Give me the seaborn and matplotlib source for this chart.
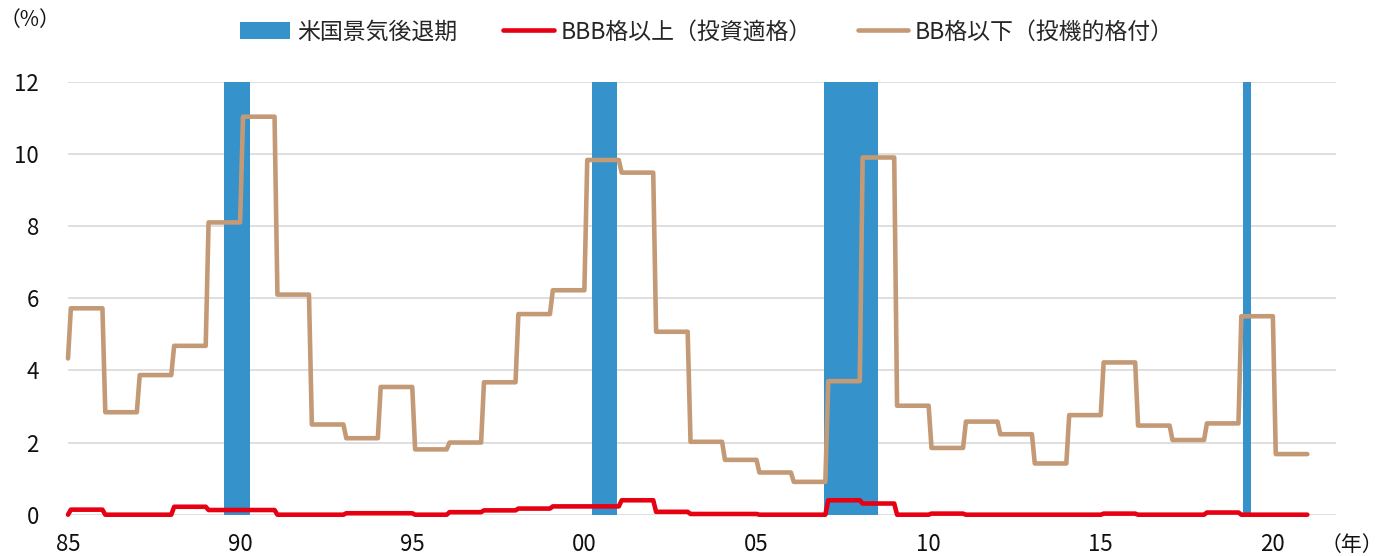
import matplotlib
matplotlib.use("Agg")
import matplotlib.pyplot as plt
import numpy as np
import pandas as pd
import seaborn as sns
from matplotlib.patches import Patch
from matplotlib.lines import Line2D

# Annual default rates (%), 1985-2021
years = list(range(1985, 2022))
bb_below = [4.33, 5.72, 2.84, 3.87, 4.68, 8.10, 11.03, 6.10, 2.50, 2.12,
            3.54, 1.81, 2.00, 3.67, 5.56, 6.22, 9.83, 9.48, 5.07, 2.02,
            1.52, 1.17, 0.91, 3.70, 9.90, 3.02, 1.85, 2.58, 2.23, 1.42,
            2.76, 4.22, 2.47, 2.07, 2.53, 5.50, 1.68]
bbb_above = [0.00, 0.14, 0.00, 0.00, 0.22, 0.13, 0.13, 0.00, 0.00, 0.04,
             0.04, 0.00, 0.07, 0.12, 0.17, 0.23, 0.23, 0.40, 0.08, 0.02,
             0.02, 0.00, 0.00, 0.40, 0.31, 0.00, 0.03, 0.00, 0.00, 0.00,
             0.00, 0.03, 0.00, 0.00, 0.06, 0.00, 0.00]

# US recessions (start year, start month, end year, end month)
recession_start = [(1990, 7), (2001, 3), (2007, 12), (2020, 2)]
recession_end = [(1991, 3), (2001, 11), (2009, 6), (2020, 4)]

tick_years = [1985, 1990, 1995, 2000, 2005, 2010, 2015, 2020]
tick_labels = ["85", "90", "95", "00", "05", "10", "15", "20"]
y_ticks = [0, 2, 4, 6, 8, 10, 12]

label_recession = "米国景気後退期"
label_bbb = "BBB格以上（投資適格）"
label_bb = "BB格以下（投機的格付）"

c_blue = "#3592CA"
c_red = "#E60012"
c_tan = "#C49A76"


def month_index(year, month):
    # months counted from December 1985
    return (year - 1985) * 12 + (month - 12)


def to_monthly(values):
    # first point is December of the first year; each later year fills Jan-Dec
    out = [values[0]]
    for v in values[1:]:
        out.extend([v] * 12)
    return out


m_bb = to_monthly(bb_below)
m_bbb = to_monthly(bbb_above)
months = np.arange(len(m_bb))
df = pd.DataFrame({
    "month": np.concatenate([months, months]),
    "rate": m_bbb + m_bb,
    "series": [label_bbb] * len(months) + [label_bb] * len(months),
})

sns.set_style("white")
plt.rcParams["font.family"] = ["Noto Sans CJK JP", "DejaVu Sans"]

fig = plt.figure(figsize=(13.86, 5.56), dpi=100)
ax = fig.add_axes([68 / 1386, (556 - 514.7) / 556, (1336 - 68) / 1386, (514.7 - 81.7) / 556])

# recession shading
for i, ((sy, sm), (ey, em)) in enumerate(zip(recession_start, recession_end)):
    ax.axvspan(month_index(sy, sm) - 0.5, month_index(ey, em) + 0.5,
               color=c_blue, lw=0, zorder=1,
               label=label_recession if i == 0 else None)

sns.lineplot(data=df, x="month", y="rate", hue="series",
             palette={label_bbb: c_red, label_bb: c_tan},
             estimator=None, sort=False, linewidth=3.3, ax=ax, zorder=3,
             legend=False)
for ln in ax.lines:
    ln.set_solid_capstyle("round")
    ln.set_solid_joinstyle("round")
    ln.set_clip_on(False)

ax.set_xlim(0, 442)
ax.set_ylim(0, 12)
ax.set_yticks(y_ticks)
ax.set_xticks([month_index(y, 12) for y in tick_years])
ax.set_xticklabels(tick_labels)
ax.set_xlabel("")
ax.set_ylabel("")
ax.grid(axis="y", color="#D9D9D9", linewidth=1.2, zorder=0)
ax.grid(axis="x", visible=False)
ax.set_axisbelow(True)
for s in ax.spines.values():
    s.set_visible(False)
ax.tick_params(axis="both", length=0, labelsize=16, colors="#111111")
ax.tick_params(axis="x", pad=13)
ax.tick_params(axis="y", pad=21)

# legend
handles = [
    Patch(facecolor=c_blue, edgecolor="none", label=label_recession),
    Line2D([0], [0], color=c_red, lw=3.3, solid_capstyle="round", label=label_bbb),
    Line2D([0], [0], color=c_tan, lw=3.3, solid_capstyle="round", label=label_bb),
]
fig.legend(handles=handles, loc="center", bbox_to_anchor=(707 / 1386, 1 - 32 / 556),
           ncol=3, frameon=False, fontsize=16.5, handlelength=2.2,
           handleheight=0.7, handletextpad=0.3, columnspacing=2.0)

fig.text(0 / 1386, 1 - 20 / 556, "（%）", fontsize=15, ha="left", va="center",
         color="#111111")
fig.text(1352 / 1386, 1 - 545 / 556, "（年）", fontsize=15, ha="center", va="center",
         color="#111111")

fig.savefig("out.png", dpi=100)
